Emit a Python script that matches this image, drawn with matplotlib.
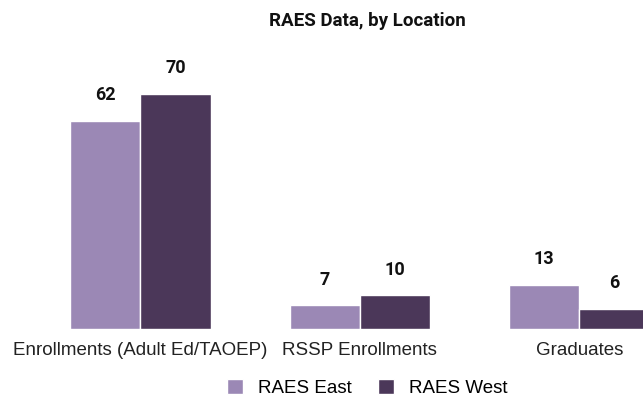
import numpy as np
import matplotlib.pyplot as plt

categories = ["Enrollments (Adult Ed/TAOEP)", "RSSP Enrollments", "Graduates"]
east = [62, 7, 13]
west = [70, 10, 6]
series_names = ["RAES East", "RAES West"]
colors = ["#9b88b5", "#4b3759"]

fig = plt.figure(figsize=(6.43, 4.0), dpi=100)
ax = fig.add_axes([0.0, (400 - 329) / 400, 1.0, 268.8 / 400])

x = np.arange(len(categories))
width = 0.32

for offset, vals, name, color in [(-width / 2, east, series_names[0], colors[0]),
                                  (width / 2, west, series_names[1], colors[1])]:
    bars = ax.bar(x + offset, vals, width, color=color, label=name,
                  edgecolor="white", linewidth=1)
    for b, v in zip(bars, vals):
        ax.annotate(str(v), (b.get_x() + b.get_width() / 2, v),
                    xytext=(0, 15), textcoords="offset points",
                    ha="center", va="baseline", fontsize=13,
                    fontweight="bold", family="Roboto", color="#111111")

ax.set_xlim(-0.64, 2.29)
ax.set_ylim(0, 80)
ax.set_xticks(x)
ax.set_xticklabels(categories, family="Liberation Sans", fontsize=13.5, color="#222222")
ax.tick_params(axis="x", length=0, pad=9.5)
ax.set_yticks([])
for s in ax.spines.values():
    s.set_visible(False)

fig.text(367.5 / 643, 1 - 21 / 400, "RAES Data, by Location", ha="center", va="center",
         fontsize=13.5, fontweight="bold", family="Roboto", color="#111111")

fig.legend(loc="center", bbox_to_anchor=(367.5 / 643, 1 - 388 / 400), ncol=2,
           frameon=False, handlelength=0.85, handleheight=0.85, handletextpad=0.8,
           columnspacing=1.4, borderpad=0,
           prop={"family": "Liberation Sans", "size": 13.5})

fig.savefig("out.png", dpi=100)
